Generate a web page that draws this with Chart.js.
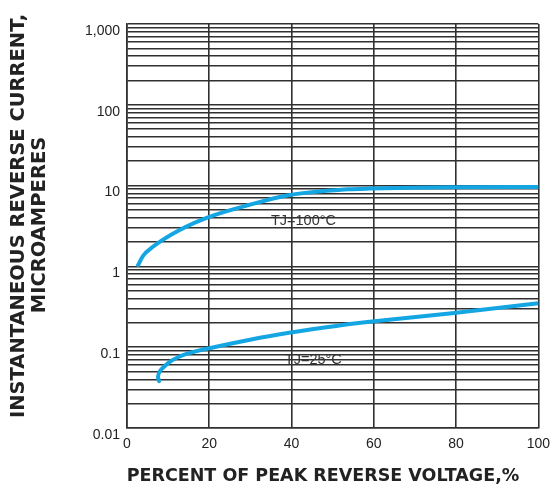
<!DOCTYPE html>
<html>
<head>
<meta charset="utf-8">
<script src="https://cdn.jsdelivr.net/npm/chart.js@4"></script>
<style>
  html, body { margin: 0; padding: 0; background: #fff; }
  #wrap { width: 558px; height: 488px; }
</style>
</head>
<body>
<div id="wrap"><canvas id="leakChart" width="558" height="488"></canvas></div>
<script>
// values
const hotX = [2.7, 3.9, 6.3, 12.8, 20, 29.6, 39.3, 53.7, 59, 79, 100];
const hotY = [1.04, 1.35, 1.75, 2.82, 4.1, 5.75, 7.6, 9.0, 9.2, 9.55, 9.6];

const coldX = [7.8, 7.55, 7.95, 9.2, 10.8, 13.6, 20, 29.6, 39.4, 53.7, 59, 79, 100];
const coldY = [0.038, 0.043, 0.05, 0.0585, 0.068, 0.08, 0.097, 0.123, 0.151, 0.192, 0.207, 0.263, 0.35];

const decades = [0.01, 0.1, 1, 10, 100, 1000];
const decadeLabels = ['0.01', '0.1', '1', '10', '100', '1,000'];
const xTicks = [0, 20, 40, 60, 80, 100];

const xTitle = 'PERCENT OF PEAK REVERSE VOLTAGE,%';
const yTitle = ['INSTANTANEOUS REVERSE CURRENT,', 'MICROAMPERES'];

const noteText = ['TJ=100°C', 'TJ=25°C'];
const noteX = [42.9, 45.3];
const noteY = [3.65, 0.0695];

// every minor line of the log grid (1..9 in each decade)
const gridValues = [];
for (let i = 0; i < decades.length - 1; i++) {
    for (let m = 1; m <= 9; m++) gridValues.push(m === 1 ? decades[i] : m * decades[i]);
}
gridValues.push(decades[decades.length - 1]);

const toPoints = (xs, ys) => xs.map((x, i) => ({ x: x, y: ys[i] }));

const lineBlue = '#13a6e2';
const gridColor = '#303030';
const fontFam = "'Liberation Sans', Arial, sans-serif";
const titleFam = "'DejaVu Sans', sans-serif";

// curve labels + axis titles (titles placed by hand, the reference has them a bit off-centre)
const textPlugin = {
    id: 'texts',
    afterDatasetsDraw(chart) {
        const ctx = chart.ctx;
        const xs = chart.scales.x, ys = chart.scales.y;
        ctx.save();
        ctx.textAlign = 'center';
        ctx.textBaseline = 'middle';

        ctx.font = '14.5px ' + fontFam;
        ctx.fillStyle = '#333';
        noteText.forEach((t, i) => {
            ctx.fillText(t, xs.getPixelForValue(noteX[i]), ys.getPixelForValue(noteY[i]));
        });

        ctx.fillStyle = '#222';
        ctx.font = 'bold 17.5px ' + titleFam;
        ctx.fillText(xTitle, 323, 476);

        ctx.font = 'bold 19.5px ' + titleFam;
        ctx.save();
        ctx.translate(19, 216);
        ctx.rotate(-Math.PI / 2);
        ctx.fillText(yTitle[0], 0, 0);
        ctx.restore();
        ctx.save();
        ctx.translate(40, 225);
        ctx.rotate(-Math.PI / 2);
        ctx.fillText(yTitle[1], 0, 0);
        ctx.restore();

        ctx.restore();
    }
};

new Chart(document.getElementById('leakChart').getContext('2d'), {
    type: 'scatter',
    data: {
        datasets: [{
            label: noteText[0],
            data: toPoints(hotX, hotY),
            showLine: true,
            borderColor: lineBlue,
            borderWidth: 4,
            borderCapStyle: 'round',
            cubicInterpolationMode: 'monotone',
            pointRadius: 0
        }, {
            label: noteText[1],
            data: toPoints(coldX, coldY),
            showLine: true,
            borderColor: lineBlue,
            borderWidth: 4,
            borderCapStyle: 'round',
            tension: 0.4,
            pointRadius: 0
        }]
    },
    options: {
        responsive: false,
        animation: false,
        layout: { padding: { left: 0, right: 16, top: 24, bottom: 0 } },
        plugins: {
            legend: { display: false },
            tooltip: { enabled: false }
        },
        scales: {
            x: {
                type: 'linear',
                min: 0,
                max: 100,
                afterBuildTicks: s => { s.ticks = xTicks.map(v => ({ value: v })); },
                afterFit: s => { s.height = 60; },
                grid: { color: gridColor, lineWidth: 1.6, drawTicks: false },
                border: { color: gridColor, width: 1.6 },
                ticks: {
                    padding: 8,
                    color: '#222',
                    font: { family: fontFam, size: 14 },
                    maxRotation: 0
                }
            },
            y: {
                type: 'logarithmic',
                min: 0.01,
                max: 1000,
                afterBuildTicks: s => { s.ticks = gridValues.map(v => ({ value: v })); },
                afterFit: s => { s.width = 127; },
                grid: { color: gridColor, lineWidth: 1.6, drawTicks: false },
                border: { color: gridColor, width: 1.6 },
                ticks: {
                    autoSkip: false,
                    padding: 7,
                    labelOffset: 7,
                    color: '#222',
                    font: { family: fontFam, size: 14 },
                    callback: function (value) {
                        const k = decades.indexOf(value);
                        return k >= 0 ? decadeLabels[k] : '';
                    }
                }
            }
        }
    },
    plugins: [textPlugin]
});
</script>
</body>
</html>
